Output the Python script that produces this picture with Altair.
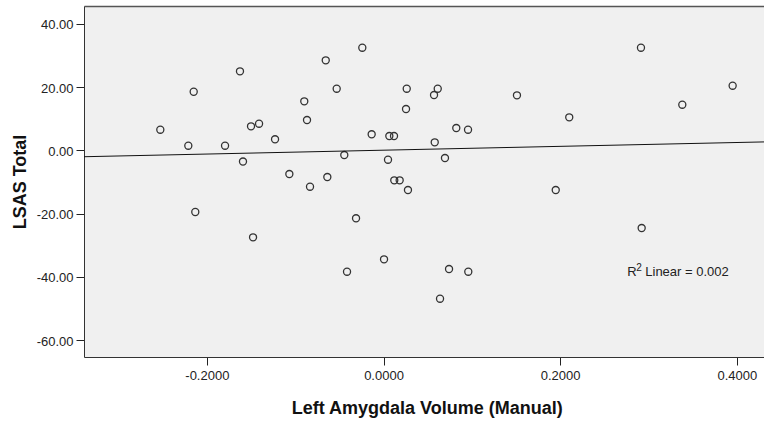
import altair as alt
import pandas as pd

# Left amygdala volume (manual tracing) against LSAS total score, one row per participant
amygdala = [
    -0.2527, -0.2149, -0.2210, -0.1794, -0.1625, -0.1500, -0.1409, -0.1591,
    -0.1228, -0.1066, -0.0832, -0.0897, -0.0866, -0.0654, -0.0636, -0.0530,
    -0.0444, -0.0240, -0.0134, 0.0051, 0.0066, 0.0119, 0.0122, 0.0183,
    0.0277, 0.0263, 0.0255, 0.0572, 0.0614, 0.0580, 0.0696, 0.0824,
    0.0957, -0.2131, -0.1477, -0.0311, 0.0006, -0.0413, 0.0742, 0.0960,
    0.0640, 0.1511, 0.2103, 0.2915, 0.3383, 0.3953, 0.1950, 0.2923,
]
lsas = [
    6.51, 18.51, 1.45, 1.45, 24.96, 7.58, 8.40, -3.54,
    3.48, -7.49, -11.50, 15.48, 9.57, 28.44, -8.44, 19.46,
    -1.49, 32.42, 5.06, -2.97, 4.52, 4.52, -9.48, -9.48,
    -12.54, 19.46, 13.05, 17.47, 19.46, 2.53, -2.43, 7.05,
    6.51, -19.49, -27.49, -21.48, -34.44, -38.36, -37.50, -38.36,
    -46.89, 17.38, 10.43, 32.42, 14.41, 20.41, -12.54, -24.55,
]

x_ticks = [-0.2, 0.0, 0.2, 0.4]
y_ticks = [-60, -40, -20, 0, 20, 40]
x_range = [-0.3391, 0.4308]
y_range = [-65.3, 45.6]

# fit-statistic annotation
r2_label = "Linear = 0.002"
r2_anchor = {"x": 0.2760, "y": -39.7}

df = pd.DataFrame({"volume": amygdala, "lsas": lsas})

FONT = "Arial, Liberation Sans, Helvetica, sans-serif"
MINUS = "\u2212"

x_scale = alt.Scale(domain=x_range, nice=False, zero=False)
y_scale = alt.Scale(domain=y_range, nice=False, zero=False)

y_axis = alt.Axis(
    values=y_ticks,
    labelExpr=f"replace(format(datum.value, '.2f'), '{MINUS}', '-')",
    grid=False,
    tickSize=8,
    tickColor="#222222",
    tickWidth=1,
    domainColor="#333333",
    domainWidth=1,
    labelFont=FONT,
    labelFontSize=13,
    labelColor="#222222",
    labelPadding=3,
    labelOffset=1,
    title="LSAS Total",
    titleFont=FONT,
    titleFontSize=18,
    titleFontWeight="bold",
    titleColor="#111111",
    titleAngle=270,
    titleBaseline="alphabetic",
    titleAlign="center",
    titleX=-58.5,
    titleY=175.5,
)
y_enc = alt.Y("lsas:Q", scale=y_scale, axis=y_axis)

x_axis_bottom = alt.Axis(
    orient="bottom",
    values=x_ticks,
    labelExpr=f"replace(format(datum.value, '.4f'), '{MINUS}', '-')",
    grid=False,
    tickSize=8,
    tickColor="#222222",
    tickWidth=1,
    domainColor="#333333",
    domainWidth=1,
    labelFont=FONT,
    labelFontSize=13,
    labelColor="#222222",
    labelPadding=14,
    labelBaseline="alphabetic",
    labelFlush=False,
    labelOverlap=False,
    title="Left Amygdala Volume (Manual)",
    titleFont=FONT,
    titleFontSize=18,
    titleFontWeight="bold",
    titleColor="#111111",
    titleBaseline="alphabetic",
    titleAlign="center",
    titleX=342.7,
    titleY=56.3,
)

# top edge of the frame
x_axis_top = alt.Axis(
    orient="top",
    labels=False,
    ticks=False,
    grid=False,
    title=None,
    domainColor="#555555",
    domainWidth=1.5,
)

base = alt.Chart(df)

points = base.mark_point(
    shape="circle", filled=False, color="#333333", size=50, strokeWidth=1.3, opacity=1
).encode(
    x=alt.X("volume:Q", scale=x_scale, axis=x_axis_bottom),
    y=y_enc,
)

fit = base.transform_regression(
    "volume", "lsas", method="linear", extent=x_range
).mark_line(color="#111111", strokeWidth=1, clip=True).encode(
    x=alt.X("volume:Q", scale=x_scale, axis=x_axis_top),
    y=y_enc,
)

label_df = pd.DataFrame([r2_anchor])
label_base = alt.Chart(label_df)
label_x = alt.X("x:Q", scale=x_scale, axis=None)
label_y = alt.Y("y:Q", scale=y_scale, axis=y_axis)

r_text = label_base.mark_text(
    text="R", align="left", baseline="alphabetic", font=FONT, fontSize=13, color="#222222"
).encode(x=label_x, y=label_y)
sup_text = label_base.mark_text(
    text="2", align="left", baseline="alphabetic", font=FONT, fontSize=10, color="#222222",
    dx=9, dy=-5,
).encode(x=label_x, y=label_y)
rest_text = label_base.mark_text(
    text=r2_label, align="left", baseline="alphabetic", font=FONT, fontSize=13, color="#222222",
    dx=18,
).encode(x=label_x, y=label_y)

chart = (
    alt.layer(points, fit, r_text, sup_text, rest_text)
    .resolve_axis(x="independent")
    .properties(
        width=680,
        height=351,
        padding={"left": 84, "top": 6, "right": 0, "bottom": 66},
        autosize=alt.AutoSizeParams(type="none"),
        background="white",
    )
    .configure_view(stroke=None, fill="#F0F0F0")
)

chart.save("out.html", embed_options={"renderer": "svg", "actions": False})
